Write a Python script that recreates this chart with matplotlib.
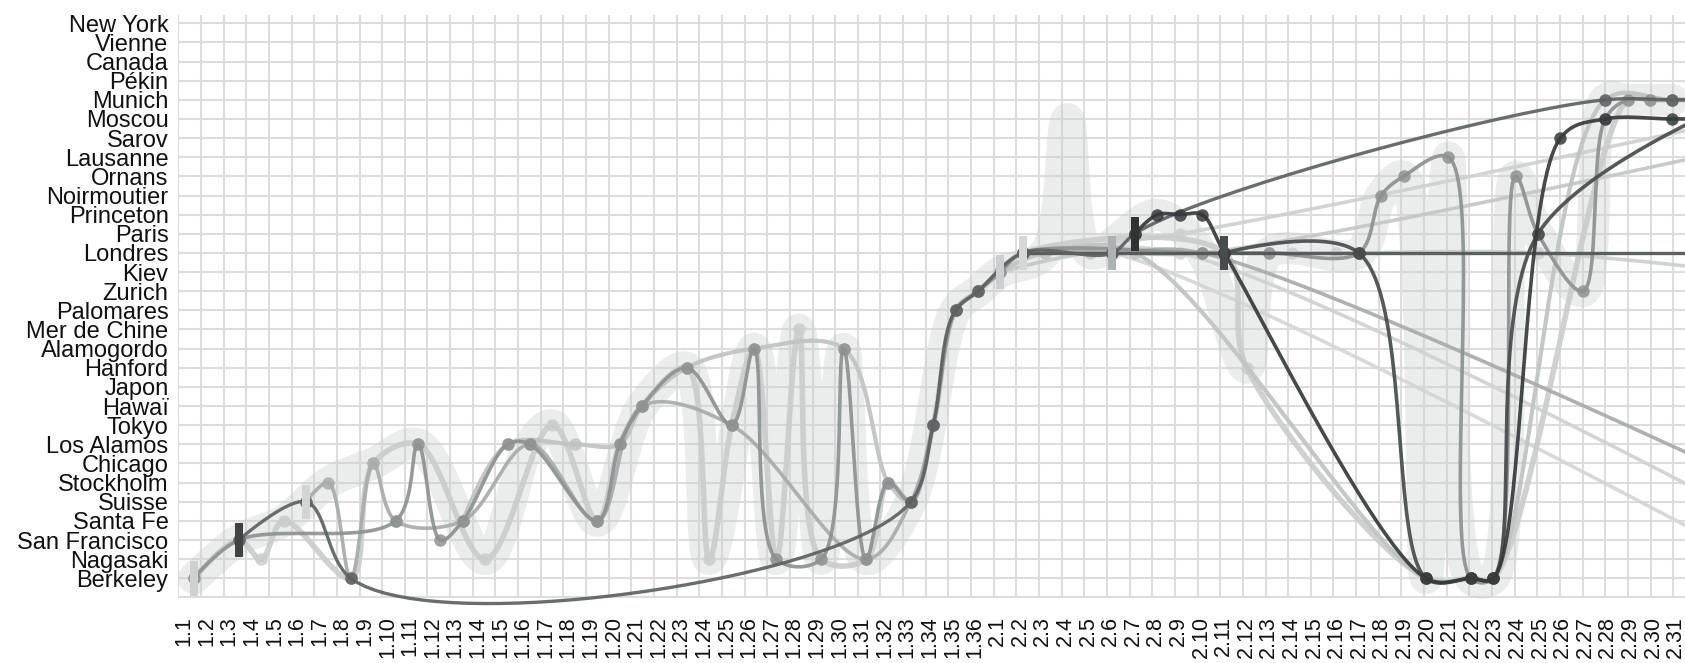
import numpy as np
import matplotlib
matplotlib.use("Agg")
import matplotlib.pyplot as plt

plt.rcParams["font.family"] = ["Liberation Sans", "DejaVu Sans"]

# ------------------------------------------------------------------
# Data: locations (bottom -> top), chapters, character paths
# ------------------------------------------------------------------
LOCATIONS = ["Berkeley", "Nagasaki", "San Francisco", "Santa Fe", "Suisse",
             "Stockholm", "Chicago", "Los Alamos", "Tokyo", "Hawaï", "Japon",
             "Hanford", "Alamogordo", "Mer de Chine", "Palomares", "Zurich",
             "Kiev", "Londres", "Paris", "Princeton", "Noirmoutier", "Ornans",
             "Lausanne", "Sarov", "Moscou", "Munich", "Pékin", "Canada",
             "Vienne", "New York"]

CHAPTERS = ["1.%d" % k for k in range(1, 37)] + ["2.%d" % k for k in range(1, 41)]
N_SHOWN = 67          # 1.1 .. 2.31 are on the canvas

BAND_PATH = [("1.1", "Berkeley"), ("1.3", "San Francisco"), ("1.5", "Santa Fe"),
             ("1.7", "Stockholm"), ("1.9", "Chicago"), ("1.11", "Los Alamos"),
             ("1.14", "Nagasaki"), ("1.16", "Los Alamos"), ("1.17", "Tokyo"),
             ("1.19", "Santa Fe"), ("1.21", "Hawaï"), ("1.23", "Hanford"),
             ("1.24", "Nagasaki"), ("1.26", "Alamogordo"), ("1.27", "Nagasaki"),
             ("1.28", "Mer de Chine"), ("1.29", "Nagasaki"), ("1.30", "Alamogordo"),
             ("1.31", "Nagasaki"), ("1.33", "Suisse"), ("1.35", "Palomares"),
             ("1.36", "Zurich"), ("2.1", "Kiev"), ("2.3", "Londres"),
             ("2.4", "Moscou"), ("2.5", "Londres"), ("2.8", "Princeton"),
             ("2.10", "Londres"), ("2.12", "Hanford"), ("2.13", "Londres"),
             ("2.17", "Londres"), ("2.18", "Noirmoutier"), ("2.19", "Ornans"),
             ("2.20", "Berkeley"), ("2.21", "Lausanne"), ("2.22", "Berkeley"),
             ("2.23", "Berkeley"), ("2.24", "Ornans"), ("2.25", "Paris"),
             ("2.27", "Zurich"), ("2.28", "Munich"), ("2.29", "Munich"),
             ("2.30", "Munich"), ("2.31", "Munich")]

PATH_LIGHT_S = [("1.1", "Berkeley"), ("1.3", "San Francisco"), ("1.4", "Nagasaki"),
                ("1.5", "Santa Fe"), ("1.8", "Berkeley"), ("1.9", "Chicago"),
                ("1.11", "Los Alamos"), ("1.14", "Nagasaki"), ("1.17", "Tokyo"),
                ("1.19", "Santa Fe"), ("1.20", "Los Alamos"), ("1.21", "Hawaï"),
                ("1.23", "Hanford"), ("1.24", "Nagasaki"), ("1.25", "Tokyo"),
                ("1.26", "Alamogordo"), ("1.27", "Nagasaki"), ("1.28", "Mer de Chine"),
                ("1.29", "Nagasaki"), ("1.31", "Nagasaki"), ("1.32", "Stockholm"),
                ("1.33", "Suisse"), ("1.34", "Tokyo"), ("1.35", "Palomares"),
                ("1.36", "Zurich"), ("2.1", "Kiev"), ("2.2", "Londres"),
                ("2.11", "Londres"), ("2.12", "Hanford"), ("2.20", "Berkeley"),
                ("2.22", "Berkeley"), ("2.23", "Berkeley"), ("2.29", "Munich"),
                ("2.30", "Munich"), ("2.31", "Munich"), ("2.34", "Munich")]

PATH_LIGHT_T = [("1.13", "Santa Fe"), ("1.15", "Los Alamos"), ("1.18", "Los Alamos"),
                ("1.20", "Los Alamos"), ("1.21", "Hawaï"), ("1.23", "Hanford"),
                ("1.26", "Alamogordo"), ("1.30", "Alamogordo"), ("1.32", "Stockholm"),
                ("1.33", "Suisse"), ("1.34", "Tokyo"), ("1.35", "Palomares"),
                ("1.36", "Zurich"), ("2.1", "Kiev"), ("2.3", "Londres"),
                ("2.7", "Londres"), ("2.20", "Berkeley"), ("2.22", "Berkeley"),
                ("2.23", "Berkeley"), ("2.28", "Munich"), ("2.31", "Munich"),
                ("2.35", "Munich")]

PATH_MID_R = [("1.6", "Suisse"), ("1.7", "Stockholm"), ("1.8", "Berkeley"),
              ("1.9", "Chicago"), ("1.10", "Santa Fe"), ("1.13", "Santa Fe"),
              ("1.16", "Los Alamos"), ("1.19", "Santa Fe"), ("1.21", "Hawaï"),
              ("1.25", "Tokyo"), ("1.31", "Nagasaki"), ("1.33", "Suisse"),
              ("1.34", "Tokyo"), ("1.35", "Palomares"), ("1.36", "Zurich"),
              ("2.2", "Londres"), ("2.6", "Londres"), ("2.10", "Londres"),
              ("2.40", "San Francisco")]

PATH_MID_Q = [("1.1", "Berkeley"), ("1.3", "San Francisco"), ("1.10", "Santa Fe"),
              ("1.11", "Los Alamos"), ("1.12", "San Francisco"), ("1.13", "Santa Fe"),
              ("1.15", "Los Alamos"), ("1.16", "Los Alamos"), ("1.19", "Santa Fe"),
              ("1.20", "Los Alamos"), ("1.21", "Hawaï"), ("1.23", "Hanford"),
              ("1.25", "Tokyo"), ("1.26", "Alamogordo"), ("1.27", "Nagasaki"),
              ("1.29", "Nagasaki"), ("1.30", "Alamogordo"), ("1.31", "Nagasaki"),
              ("1.32", "Stockholm"), ("1.33", "Suisse"), ("1.34", "Tokyo"),
              ("1.35", "Palomares"), ("1.36", "Zurich"), ("2.1", "Kiev"),
              ("2.2", "Londres"), ("2.10", "Londres"), ("2.13", "Londres"),
              ("2.17", "Londres"), ("2.18", "Noirmoutier"), ("2.19", "Ornans"),
              ("2.21", "Lausanne"), ("2.22", "Berkeley"), ("2.23", "Berkeley"),
              ("2.24", "Ornans"), ("2.25", "Paris"), ("2.27", "Zurich"),
              ("2.28", "Moscou"), ("2.29", "Munich"), ("2.30", "Munich"),
              ("2.31", "Munich"), ("2.34", "Munich")]

PATH_DARK_SF = [("1.3", "San Francisco"), ("1.6", "Suisse"), ("1.8", "Berkeley"),
                ("1.33", "Suisse"), ("1.34", "Tokyo"), ("1.35", "Palomares"),
                ("1.36", "Zurich"), ("2.2", "Londres"), ("2.6", "Londres"),
                ("2.7", "Paris"), ("2.28", "Munich"), ("2.31", "Munich"),
                ("2.36", "Munich")]

PATH_LIGHT_RISE = [("2.1", "Kiev"), ("2.5", "Londres"), ("2.10", "Londres"),
                   ("2.36", "Sarov")]
PATH_LIGHT_RISE2 = [("2.2", "Londres"), ("2.9", "Paris"), ("2.34", "Moscou")]
PATH_LIGHT_FALL = [("2.2", "Londres"), ("2.6", "Londres"), ("2.36", "Berkeley")]
PATH_LIGHT_FALL2 = [("2.3", "Londres"), ("2.9", "Londres"), ("2.38", "Nagasaki")]
PATH_LIGHT_KIEV = [("2.10", "Londres"), ("2.13", "Londres"), ("2.14", "Londres"),
                   ("2.16", "Londres"), ("2.25", "Londres"), ("2.34", "Kiev")]

PATH_LONDRES = [("2.2", "Londres"), ("2.6", "Londres"), ("2.11", "Londres"),
                ("2.17", "Londres"), ("2.40", "Londres")]

PATH_DARK_D1 = [("2.7", "Paris"), ("2.8", "Princeton"), ("2.9", "Princeton"),
                ("2.10", "Princeton"), ("2.11", "Londres"), ("2.20", "Berkeley"),
                ("2.22", "Berkeley"), ("2.23", "Berkeley"), ("2.26", "Sarov"),
                ("2.28", "Moscou"), ("2.31", "Moscou"), ("2.35", "Moscou")]

PATH_DARK_D2 = [("2.11", "Londres"), ("2.17", "Londres"), ("2.20", "Berkeley"),
                ("2.22", "Berkeley"), ("2.23", "Berkeley"), ("2.25", "Paris"),
                ("2.34", "Munich")]

BAR_CHAPTERS = ["1.1", "1.3", "1.6", "2.1", "2.2", "2.6", "2.7", "2.11"]
BAR_LOCATIONS = ["Berkeley", "San Francisco", "Suisse", "Kiev", "Londres",
                 "Londres", "Paris", "Londres"]

# ------------------------------------------------------------------
# Styles (drawing order: light first, dark last): path, colour, width, curve alpha
# ------------------------------------------------------------------
LINES = [
    (PATH_LIGHT_FALL, "#d4d6d6", 2.6, 0.5),
    (PATH_LIGHT_FALL2, "#d0d2d2", 2.6, 0.5),
    (PATH_LIGHT_KIEV, "#cdd0d0", 2.6, 0.5),
    (PATH_LIGHT_RISE2, "#cfd1d1", 2.6, 0.5),
    (PATH_LIGHT_RISE, "#c4c7c7", 2.6, 0.5),
    (PATH_LIGHT_S, "#cbcdcd", 4.0, 0.5),
    (PATH_LIGHT_T, "#c0c3c3", 3.0, 0.5),
    (PATH_MID_R, "#a8abab", 2.6, 0.5),
    (PATH_MID_Q, "#8e9192", 2.6, 0.5),
    (PATH_LONDRES, "#505455", 2.4, 0.5),
    (PATH_DARK_SF, "#5d6162", 2.4, 0.66),
    (PATH_DARK_D2, "#474b4c", 2.6, 0.5),
    (PATH_DARK_D1, "#363a3b", 2.6, 0.5),
]
BAR_COLORS = ["#cfd1d1", "#3f4344", "#d3d5d5", "#cccfcf", "#d6d8d8",
              "#aeb1b1", "#2f3334", "#474b4c"]

# pixel layout of the reference: x(i) = 194 + 22.4 i, row(r) = 578.3 - 19.14 r
W, H = 1685, 663
X0, DX = 194.0, 22.4
Y0, DY = 578.3, 19.14


def px2x(p):
    return (p - X0) / DX


def px2y(p):
    return (Y0 - p) / DY


def catmull_rom(path, alpha=0.5, n=40):
    """Catmull-Rom through the path points (as d3.curveCatmullRom),
    computed in pixel space and returned in data units."""
    xs = np.array([CHAPTERS.index(c) for c, _ in path], float)
    ys = np.array([LOCATIONS.index(l) for _, l in path], float)
    P = np.column_stack([X0 + DX * xs, Y0 - DY * ys])
    t = np.linspace(0.0, 1.0, n)[:, None]
    out = [P[:1]]
    for k in range(len(P) - 1):
        p1, p2 = P[k], P[k + 1]
        l12 = np.hypot(*(p2 - p1))
        l12_a, l12_2a = l12 ** alpha, l12 ** (2 * alpha)
        c1, c2 = p1.copy(), p2.copy()
        if k > 0:
            p0 = P[k - 1]
            l01 = np.hypot(*(p1 - p0))
            l01_a, l01_2a = l01 ** alpha, l01 ** (2 * alpha)
            a = 2 * l01_2a + 3 * l01_a * l12_a + l12_2a
            nn = 3 * l01_a * (l01_a + l12_a)
            c1 = (p1 * a - p0 * l12_2a + p2 * l01_2a) / nn
        if k + 2 < len(P):
            p3 = P[k + 2]
            l23 = np.hypot(*(p3 - p2))
            l23_a, l23_2a = l23 ** alpha, l23 ** (2 * alpha)
            b = 2 * l23_2a + 3 * l23_a * l12_a + l12_2a
            m = 3 * l23_a * (l23_a + l12_a)
            c2 = (p2 * b + p1 * l23_2a - p3 * l12_2a) / m
        seg = ((1 - t) ** 3 * p1 + 3 * (1 - t) ** 2 * t * c1
               + 3 * (1 - t) * t ** 2 * c2 + t ** 3 * p2)
        out.append(seg[1:])
    C = np.vstack(out)
    return px2x(C[:, 0]), px2y(C[:, 1]), xs, ys


fig = plt.figure(figsize=(W / 100, H / 100), dpi=100)
left_px, top_px, bot_px = 178.3, 14.7, 598.0
ax = fig.add_axes([left_px / W, 1 - bot_px / H, 1 - left_px / W, (bot_px - top_px) / H])
ax.set_xlim(px2x(left_px), px2x(W))
ax.set_ylim(px2y(bot_px), px2y(top_px))
for s in ax.spines.values():
    s.set_visible(False)

# background grid
grid_px = 178.3 + 22.65 * np.arange(67)
ax.vlines(px2x(grid_px), px2y(bot_px), px2y(top_px), color="#dddddd", lw=1.5, zorder=1)
ax.hlines(np.arange(-1, 30), px2x(left_px), px2x(W), color="#dddddd", lw=1.5, zorder=1)

# translucent band
cx, cy, _, _ = catmull_rom(BAND_PATH)
ax.plot(cx, cy, color="#c8cccc", lw=23, alpha=0.35, solid_capstyle="round",
        solid_joinstyle="round", zorder=2, clip_on=False)

for k, (path, col, lw, cr_alpha) in enumerate(LINES):
    cx, cy, xs, ys = catmull_rom(path, alpha=cr_alpha)
    ax.plot(cx, cy, color=col, lw=lw, alpha=0.92, solid_capstyle="round",
            zorder=3 + k * 0.1, clip_on=False)
    vis = xs < N_SHOWN
    ax.plot(xs[vis], ys[vis], "o", color=col, ms=9, alpha=0.85, mew=0,
            zorder=3 + k * 0.1, clip_on=False)

bar_x = [CHAPTERS.index(c) for c in BAR_CHAPTERS]
bar_y = [LOCATIONS.index(l) for l in BAR_LOCATIONS]
ax.bar(bar_x, 1.8, width=0.36, bottom=np.array(bar_y) - 0.9, color=BAR_COLORS,
       zorder=6, clip_on=False)

ax.set_yticks(range(len(LOCATIONS)))
ax.set_yticklabels(LOCATIONS)
tick_px = 184 + 22.6 * np.arange(N_SHOWN)
ax.set_xticks(px2x(tick_px))
ax.set_xticklabels(CHAPTERS[:N_SHOWN], rotation=90)
ax.tick_params(axis="y", length=0, pad=7, labelsize=17, labelcolor="#111111")
ax.tick_params(axis="x", length=0, pad=13, labelsize=15.5, labelcolor="#111111")

fig.savefig("out.png", dpi=100)
